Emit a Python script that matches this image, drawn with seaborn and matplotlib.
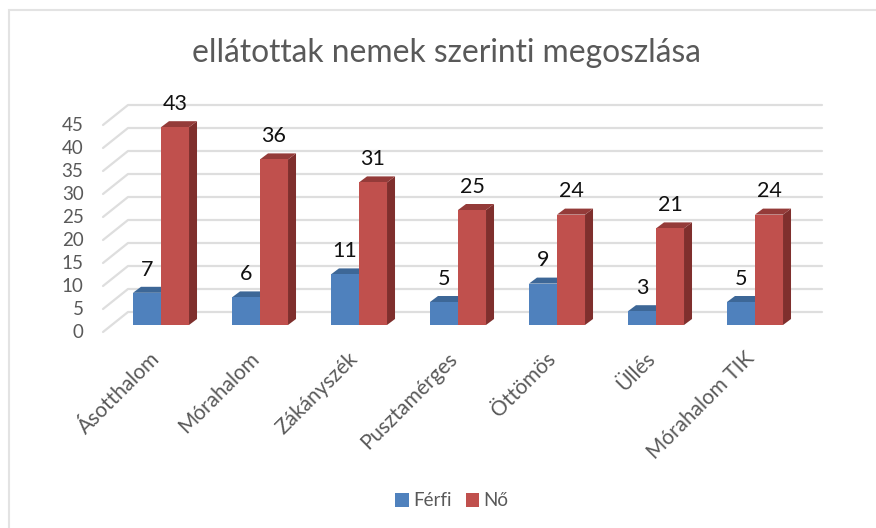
import pandas as pd
import seaborn as sns
from matplotlib import pyplot as plt
from matplotlib.patches import Polygon, Rectangle
from matplotlib.transforms import ScaledTranslation

telepulesek = ["Ásotthalom", "Mórahalom", "Zákányszék", "Pusztamérges", "Öttömös", "Üllés", "Mórahalom TIK"]
ferfi = [7, 6, 11, 5, 9, 3, 5]
no = [43, 36, 31, 25, 24, 21, 24]
y_ticks = [0, 5, 10, 15, 20, 25, 30, 35, 40, 45]

W, H = 876, 528
PX_X = 99.0  # px per category
PX_Y = 4.6   # px per unit

sns.set_theme(style="white")
plt.rcParams["font.family"] = ["Lato", "DejaVu Sans"]

df = pd.DataFrame({"hely": telepulesek * 2, "ertek": ferfi + no,
                   "nem": ["Férfi"] * 7 + ["Nő"] * 7})

fig = plt.figure(figsize=(W / 100, H / 100), dpi=100)
fig.patch.set_facecolor("white")
left, right, base, top = 103, 822, 325, 100
ax = fig.add_axes([left / W, 1 - base / H, (right - left) / W, (base - top) / H])
ax.patch.set_alpha(0)

sns.barplot(data=df, x="hely", y="ertek", hue="nem", palette=["#4F81BD", "#C0504D"],
            width=0.566, gap=0, saturation=1, linewidth=0, ax=ax, zorder=3)

ax.set_xlim((left - 161) / PX_X, (right - 161) / PX_X)
ax.set_ylim(0, (base - top) / PX_Y)

# depth of the fake 3d look, in data units
dx = 8 / PX_X
dy = 6 / PX_Y
back_x = (128 - 161) / PX_X
back_y = 13 / PX_Y
front_y = -7 / PX_Y

for v in y_ticks:
    ax.plot([ax.get_xlim()[0], back_x, ax.get_xlim()[1]],
            [v + front_y, v + back_y, v + back_y],
            color="#DEDEDE", lw=1.6, clip_on=False, zorder=1)

side_cols = {"#4F81BD": "#3A6290", "#C0504D": "#7F2F2D"}
top_cols = {"#4F81BD": "#3D6797", "#C0504D": "#943B39"}
for c, base_col in zip(ax.containers, ["#4F81BD", "#C0504D"]):
    for b in c:
        x0, w, h = b.get_x(), b.get_width(), b.get_height()
        ax.add_patch(Polygon([(x0 + w, 0), (x0 + w + dx, dy), (x0 + w + dx, h + dy), (x0 + w, h)],
                             fc=side_cols[base_col], ec="none", clip_on=False, zorder=2))
        ax.add_patch(Polygon([(x0, h), (x0 + dx, h + dy), (x0 + w + dx, h + dy), (x0 + w, h)],
                             fc=top_cols[base_col], ec="none", clip_on=False, zorder=2))
        b.set_clip_on(False)
    ax.bar_label(c, padding=9.5, fontsize=15.5, color="#111111", clip_on=False, zorder=5)

sns.despine(ax=ax, left=True, bottom=True)
ax.set_xlabel("")
ax.set_ylabel("")
ax.set_yticks(y_ticks)
ax.tick_params(axis="y", length=0, pad=14, labelsize=13.5, labelcolor="#595959")
ax.tick_params(axis="x", length=0, pad=17, labelsize=15, labelcolor="#595959")
ax.set_xticks(range(len(telepulesek)))
ax.set_xticklabels(telepulesek, rotation=45, ha="right", rotation_mode="anchor")
shift = ScaledTranslation(0, -0.057, fig.dpi_scale_trans)
for lab in ax.get_yticklabels():
    lab.set_transform(lab.get_transform() + shift)
shift_x = ScaledTranslation(-0.11, 0, fig.dpi_scale_trans)
for lab in ax.get_xticklabels():
    lab.set_transform(lab.get_transform() + shift_x)

fig.text(446 / W, 1 - 53 / H, "ellátottak nemek szerinti megoszlása", ha="center", va="center",
         fontsize=22.9, color="#595959")

handles, labels = ax.get_legend_handles_labels()
ax.legend(handles, labels, loc="center", bbox_to_anchor=(452 / W, 1 - 501 / H),
          bbox_transform=fig.transFigure, ncol=2, frameon=False, fontsize=13.5,
          handlelength=0.7, handleheight=0.7, handletextpad=0.25, columnspacing=0.75,
          labelcolor="#595959")

# chart frame
fig.add_artist(Rectangle((9 / W, -0.01), 2, 1 - 10 / H + 0.01, fill=False, ec="#E3E3E3", lw=1.5,
                         transform=fig.transFigure))

fig.savefig("out.png", dpi=100)
